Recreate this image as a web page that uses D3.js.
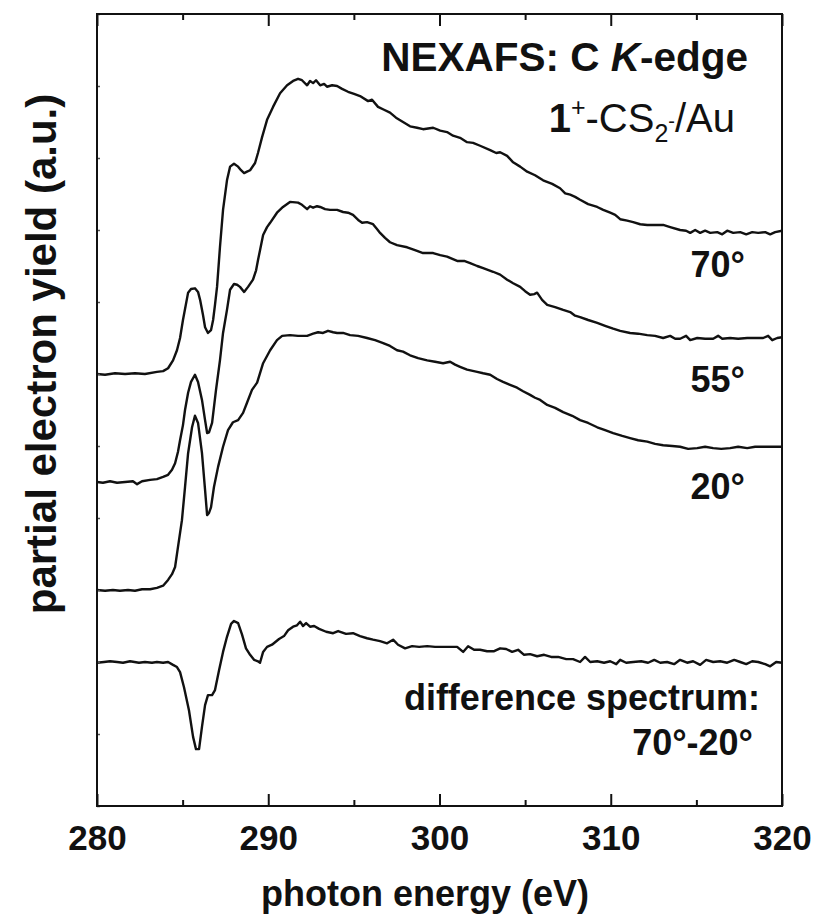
<!DOCTYPE html>
<html>
<head>
<meta charset="utf-8">
<script src="https://cdn.jsdelivr.net/npm/d3@7"></script>
<style>
  html, body { margin: 0; padding: 0; background: #fff; }
  svg { display: block; }
  text { font-family: "Liberation Sans", Arial, Helvetica, sans-serif; fill: #111; }
</style>
</head>
<body>
<svg id="chart" width="823" height="922"></svg>
<script>
// ---- data (photon energy in eV, partial electron yield in a.u., offsets included) ----
const xMajorTicks = [280, 290, 300, 310, 320];
const xMinorTicks = [285, 295, 305, 315];
const yTicks = [0,1,2,3,4,5,6,7,8,9,10,11];

const spec70 = [
[280.0,6.00],[280.47,5.99],[281.05,6.01],[281.64,6.00],[282.22,6.01],[282.80,6.00],[283.50,6.03],[283.86,6.04],
[284.15,6.08],[284.44,6.19],[284.67,6.33],[284.85,6.50],[285.02,6.75],[285.32,7.13],[285.49,7.18],[285.72,7.19],
[285.90,7.14],[286.02,7.03],[286.19,6.82],[286.31,6.65],[286.48,6.57],[286.66,6.61],[286.78,6.75],[286.89,6.96],
[287.01,7.21],[287.18,7.76],[287.36,8.28],[287.59,8.69],[287.77,8.88],[288.00,8.92],[288.24,8.88],[288.41,8.83],
[288.59,8.79],[288.76,8.81],[288.94,8.83],[289.23,8.93],[289.40,9.07],[289.64,9.29],[289.93,9.53],[290.28,9.71],
[290.69,9.90],[291.10,10.01],[291.45,10.07],[291.74,10.10],[291.97,10.08],[292.27,10.01],[292.44,10.07],[292.62,10.04],
[292.79,10.08],[293.03,10.01],[293.26,10.03],[293.43,9.99],[293.73,10.01],[294.02,10.00],[294.31,9.96],[294.66,9.92],
[295.01,9.89],[295.36,9.86],[295.83,9.79],[296.06,9.81],[296.41,9.71],[296.76,9.67],[297.11,9.63],[297.46,9.56],
[297.87,9.50],[298.28,9.44],[298.69,9.42],[299.04,9.40],[299.63,9.42],[300.04,9.38],[300.44,9.36],[300.79,9.31],
[301.20,9.28],[301.61,9.22],[301.96,9.21],[302.37,9.17],[302.96,9.11],[303.31,9.07],[303.54,9.08],[303.95,9.03],
[304.30,8.94],[304.71,8.88],[305.12,8.81],[305.58,8.76],[306.05,8.69],[306.58,8.64],[307.04,8.58],[307.34,8.51],
[307.63,8.49],[307.92,8.46],[308.21,8.42],[308.68,8.36],[309.21,8.32],[309.56,8.28],[309.97,8.24],[310.26,8.21],
[310.55,8.15],[310.96,8.13],[311.31,8.11],[311.72,8.08],[312.13,8.07],[312.59,8.07],[313.06,8.07],[313.47,8.04],
[314.05,8.00],[314.40,7.99],[314.64,7.96],[314.93,8.00],[315.22,7.96],[315.51,7.99],[315.81,7.96],[316.22,7.97],
[316.51,7.94],[316.80,7.99],[317.15,7.96],[317.56,7.97],[317.91,7.94],[318.26,7.97],[318.61,7.96],[319.02,7.97],
[319.31,7.94],[319.60,7.97],[320.0,7.99]
];

const spec55 = [
[280.0,4.50],[280.35,4.49],[280.76,4.51],[281.17,4.49],[281.64,4.50],[282.10,4.51],[282.34,4.47],[282.63,4.51],
[283.10,4.53],[283.50,4.54],[283.86,4.57],[284.15,4.60],[284.38,4.67],[284.56,4.76],[284.73,4.92],[284.85,5.08],
[285.02,5.29],[285.14,5.50],[285.32,5.74],[285.49,5.89],[285.72,5.99],[285.90,5.89],[286.13,5.64],[286.31,5.36],
[286.43,5.18],[286.54,5.19],[286.72,5.32],[286.95,5.78],[287.18,6.19],[287.36,6.57],[287.59,6.89],[287.77,7.17],
[288.00,7.25],[288.18,7.24],[288.35,7.21],[288.59,7.14],[288.82,7.21],[289.11,7.31],[289.29,7.44],[289.40,7.58],
[289.52,7.72],[289.70,7.93],[289.93,8.04],[290.11,8.10],[290.51,8.24],[290.86,8.32],[291.27,8.39],[291.74,8.38],
[291.97,8.35],[292.27,8.29],[292.44,8.33],[292.62,8.31],[292.85,8.33],[293.03,8.32],[293.32,8.29],[293.61,8.28],
[294.02,8.28],[294.37,8.25],[294.66,8.24],[294.95,8.21],[295.25,8.14],[295.48,8.10],[295.77,8.11],[296.12,8.08],
[296.36,8.01],[296.53,7.96],[296.82,7.89],[297.11,7.83],[297.52,7.79],[298.11,7.76],[298.57,7.72],[299.04,7.68],
[299.63,7.68],[300.04,7.65],[300.44,7.63],[301.03,7.57],[301.44,7.57],[301.79,7.54],[302.20,7.50],[302.55,7.47],
[303.13,7.42],[303.54,7.38],[303.95,7.31],[304.30,7.26],[304.71,7.21],[305.00,7.15],[305.29,7.10],[305.53,7.11],
[305.70,7.13],[305.99,7.03],[306.29,6.96],[306.75,6.93],[307.22,6.89],[307.63,6.86],[307.92,6.81],[308.21,6.79],
[308.68,6.75],[309.21,6.71],[309.67,6.67],[310.14,6.63],[310.55,6.60],[311.13,6.57],[311.60,6.56],[312.13,6.54],
[312.59,6.53],[313.06,6.50],[313.47,6.53],[313.76,6.49],[314.05,6.49],[314.40,6.53],[314.64,6.47],[315.05,6.50],
[315.51,6.49],[315.98,6.49],[316.27,6.53],[316.51,6.49],[316.97,6.50],[317.44,6.49],[317.97,6.50],[318.43,6.50],
[318.90,6.50],[319.19,6.53],[319.43,6.47],[319.72,6.50],[320.0,6.51]
];

const spec20 = [
[280.0,3.00],[280.47,2.99],[280.93,3.00],[281.34,2.99],[281.81,3.00],[282.22,2.99],[282.63,3.01],[283.10,3.01],
[283.50,3.03],[283.86,3.06],[284.15,3.14],[284.38,3.22],[284.56,3.32],[284.73,3.60],[284.96,3.97],[285.14,4.43],
[285.32,4.90],[285.55,5.26],[285.72,5.42],[285.90,5.32],[286.13,4.90],[286.31,4.39],[286.43,4.04],[286.54,4.07],
[286.66,4.15],[286.83,4.43],[287.07,4.71],[287.36,4.99],[287.65,5.22],[287.94,5.33],[288.24,5.36],[288.53,5.46],
[288.76,5.60],[289.05,5.78],[289.35,5.88],[289.70,6.15],[290.11,6.33],[290.51,6.47],[290.81,6.53],[291.27,6.54],
[291.74,6.53],[292.27,6.53],[292.62,6.56],[292.91,6.58],[293.20,6.57],[293.49,6.60],[293.79,6.58],[294.02,6.57],
[294.37,6.57],[294.78,6.54],[295.25,6.53],[295.77,6.50],[296.24,6.47],[296.71,6.43],[297.11,6.39],[297.52,6.33],
[297.87,6.31],[298.28,6.26],[298.75,6.22],[299.28,6.19],[299.74,6.17],[300.21,6.15],[300.62,6.17],[300.91,6.13],
[301.20,6.10],[301.61,6.06],[302.20,6.03],[302.55,6.01],[302.96,5.99],[303.36,5.93],[303.71,5.89],[304.12,5.85],
[304.53,5.81],[304.88,5.76],[305.29,5.71],[305.58,5.67],[305.88,5.64],[306.29,5.57],[306.75,5.53],[307.22,5.47],
[307.75,5.42],[308.21,5.36],[308.68,5.32],[309.21,5.26],[309.67,5.22],[310.14,5.18],[310.67,5.14],[311.13,5.11],
[311.60,5.08],[312.13,5.06],[312.59,5.03],[313.06,5.01],[313.59,5.00],[314.05,4.99],[314.52,4.96],[315.05,4.97],
[315.51,4.99],[315.98,4.97],[316.45,4.96],[316.97,4.97],[317.44,4.99],[317.97,4.97],[318.43,4.99],[318.90,4.99],
[319.43,4.99],[320.0,4.99]
];

const specDiff = [
[280.0,1.99],[280.41,2.00],[280.76,2.01],[281.17,2.00],[281.52,1.99],[281.93,2.01],[282.45,1.99],[282.80,2.00],
[283.21,1.99],[283.50,2.00],[283.86,1.99],[284.15,2.00],[284.44,1.96],[284.67,1.93],[284.85,1.86],[285.08,1.65],
[285.37,1.33],[285.61,0.96],[285.78,0.79],[285.96,0.79],[286.13,1.10],[286.31,1.40],[286.48,1.54],[286.72,1.54],
[286.89,1.61],[287.13,1.89],[287.36,2.14],[287.59,2.35],[287.83,2.53],[288.00,2.57],[288.24,2.54],[288.47,2.38],
[288.70,2.19],[288.94,2.10],[289.17,2.03],[289.40,2.01],[289.52,1.99],[289.70,2.14],[289.93,2.21],[290.22,2.24],
[290.63,2.32],[290.92,2.36],[291.16,2.44],[291.45,2.49],[291.68,2.51],[291.86,2.56],[292.03,2.50],[292.21,2.54],
[292.44,2.49],[292.68,2.50],[292.97,2.46],[293.38,2.42],[293.79,2.40],[294.08,2.43],[294.54,2.39],[294.95,2.40],
[295.36,2.36],[295.77,2.33],[296.12,2.31],[296.53,2.29],[296.94,2.26],[297.29,2.31],[297.58,2.24],[297.99,2.19],
[298.40,2.22],[298.81,2.21],[299.28,2.22],[299.74,2.21],[300.21,2.21],[300.62,2.21],[301.03,2.21],[301.38,2.14],
[301.67,2.22],[302.02,2.17],[302.37,2.17],[302.78,2.15],[303.19,2.15],[303.54,2.19],[303.89,2.18],[304.24,2.14],
[304.59,2.17],[304.94,2.10],[305.29,2.11],[305.70,2.08],[306.11,2.10],[306.52,2.07],[306.93,2.07],[307.40,2.04],
[307.80,2.04],[308.21,2.00],[308.50,2.07],[308.80,2.00],[309.21,2.01],[309.61,1.99],[309.97,2.01],[310.32,1.97],
[310.55,2.03],[310.90,1.99],[311.31,2.00],[311.78,2.01],[312.18,1.99],[312.54,2.03],[312.89,1.99],[313.29,2.00],
[313.70,1.97],[314.05,2.03],[314.46,1.99],[314.81,2.01],[315.22,1.96],[315.57,2.03],[315.98,2.00],[316.39,2.01],
[316.80,1.99],[317.21,2.03],[317.56,2.00],[317.91,1.97],[318.26,2.01],[318.61,2.00],[319.02,1.97],[319.31,1.94],
[319.66,2.00],[320.0,1.99]
];

const seriesList = [spec70, spec55, spec20, specDiff];

// ---- layout ----
const svg = d3.select("#chart");
const M = { left: 97, right: 782, top: 14, bottom: 806 };
const x = d3.scaleLinear().domain([280, 320]).range([M.left, M.right]);
const y = d3.scaleLinear().domain([0, 11]).range([M.bottom, M.top]);

// curves
const line = d3.line().x(d => x(d[0])).y(d => y(d[1]));
svg.append("g").selectAll("path").data(seriesList).join("path")
  .attr("d", line)
  .attr("fill", "none")
  .attr("stroke", "#111")
  .attr("stroke-width", 2.4)
  .attr("stroke-linejoin", "round");

// axes: bottom (major with labels)
const gB = svg.append("g").attr("transform", `translate(0,${M.bottom})`)
  .call(d3.axisBottom(x).tickValues(xMajorTicks).tickSize(-12).tickFormat(d3.format("d")));
gB.selectAll("text").attr("y", 44).attr("dy", 0)
  .style("font-size", "35px").style("font-weight", "bold").attr("fill", "#111");
const gBm = svg.append("g").attr("transform", `translate(0,${M.bottom})`)
  .call(d3.axisBottom(x).tickValues(xMinorTicks).tickSize(-6).tickFormat(""));
// top
const gT = svg.append("g").attr("transform", `translate(0,${M.top})`)
  .call(d3.axisTop(x).tickValues(xMajorTicks).tickSize(-12).tickFormat(""));
const gTm = svg.append("g").attr("transform", `translate(0,${M.top})`)
  .call(d3.axisTop(x).tickValues(xMinorTicks).tickSize(-6).tickFormat(""));
// left (tiny ticks, no labels)
const gL = svg.append("g").attr("transform", `translate(${M.left},0)`)
  .call(d3.axisLeft(y).tickValues(yTicks).tickSize(-3).tickFormat(""));

[gB, gBm, gT, gTm, gL].forEach(g => {
  g.select(".domain").remove();
  g.selectAll("line").attr("stroke", "#111").attr("stroke-width", 2);
});
gL.selectAll("line").attr("stroke-width", 1.5).attr("stroke", "#555");

// frame
svg.append("rect")
  .attr("x", M.left).attr("y", M.top)
  .attr("width", M.right - M.left).attr("height", M.bottom - M.top)
  .attr("fill", "none").attr("stroke", "#111").attr("stroke-width", 2);

// axis titles
svg.append("text").attr("x", 425).attr("y", 906).attr("text-anchor", "middle")
  .style("font-size", "36px").style("font-weight", "bold").text("photon energy (eV)");
svg.append("text").attr("transform", "translate(56,354) rotate(-90)").attr("text-anchor", "middle")
  .style("font-size", "42px").style("font-weight", "bold").text("partial electron yield (a.u.)");

// annotations
const t1 = svg.append("text").attr("x", 748).attr("y", 71).attr("text-anchor", "end")
  .style("font-size", "40.5px").style("font-weight", "bold");
t1.append("tspan").text("NEXAFS: C ");
t1.append("tspan").style("font-style", "italic").text("K");
t1.append("tspan").text("-edge");

const t2 = svg.append("text").attr("x", 735).attr("y", 132).attr("text-anchor", "end")
  .style("font-size", "40px");
t2.append("tspan").style("font-weight", "bold").text("1");
t2.append("tspan").attr("dy", -16).style("font-size", "25px").text("+");
t2.append("tspan").attr("dy", 16).text("-CS");
t2.append("tspan").attr("dy", 10).style("font-size", "25px").text("2");
t2.append("tspan").attr("dy", -14).style("font-size", "20px").text("-");
t2.append("tspan").attr("dy", 4).text("/Au");

const labels = [
  { text: "70°", x: 745, y: 277 },
  { text: "55°", x: 745, y: 392 },
  { text: "20°", x: 745, y: 499 },
  { text: "difference spectrum:", x: 760, y: 710 },
  { text: "70°-20°", x: 753, y: 755 }
];
svg.append("g").selectAll("text").data(labels).join("text")
  .attr("x", d => d.x).attr("y", d => d.y).attr("text-anchor", "end")
  .style("font-size", "36px").style("font-weight", "bold")
  .text(d => d.text);
</script>
</body>
</html>
